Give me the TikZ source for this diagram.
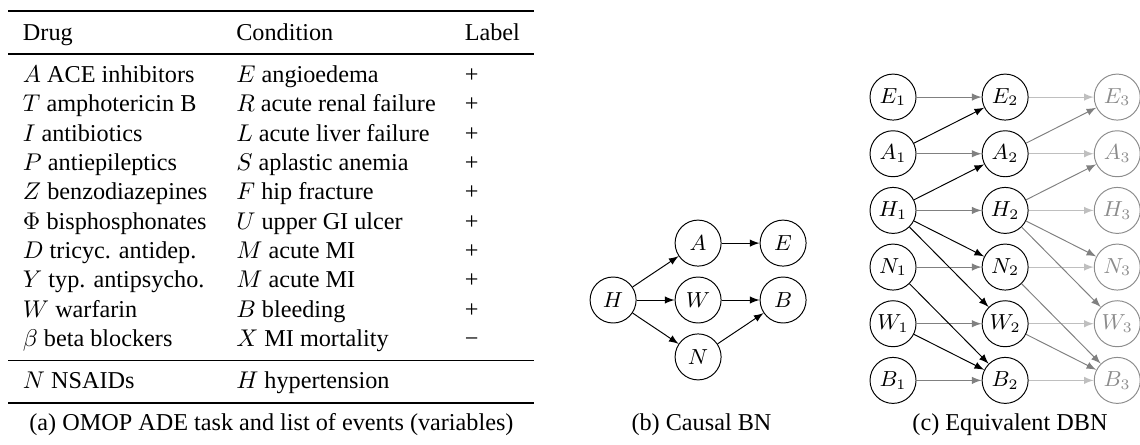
\documentclass[tikz,border=0pt]{standalone}
\usepackage{fontspec}
\setmainfont{Liberation Serif}
\usepackage{booktabs}
\usepackage{xcolor}
\usetikzlibrary{positioning}

\begin{document}
\begin{tikzpicture}[>=latex, on grid]

        % Define styles
        \tikzstyle{var} = [circle, draw, minimum size=19pt, inner sep=0pt, font=\small]
        \tikzstyle{future} = [var, draw=black!45, text=black!45]
        \tikzstyle{arrow} = [->]
        \tikzstyle{persist} = [->, black!50]
        \tikzstyle{later} = [->, black!50]
        \tikzstyle{laterpersist} = [->, black!25]
        \tikzstyle{caption} = [anchor=base, inner sep=0pt]

        \useasboundingbox (0,0) rectangle (470.8pt,-183.4pt);

        % (a) table of events
        \node (events) [anchor=north, inner sep=0pt] at (112.1pt,-4.1pt) {%
          \renewcommand{\arraystretch}{1.01}%
          \begin{tabular}{lll}
            \toprule
            Drug & Condition & Label \\
            \midrule
            $A$ ACE inhibitors & $E$ angioedema & + \\
            $T$ amphotericin B & $R$ acute renal failure & + \\
            $I$ antibiotics & $L$ acute liver failure & + \\
            $P$ antiepileptics & $S$ aplastic anemia & + \\
            $Z$ benzodiazepines & $F$ hip fracture & + \\
            $\Phi$ bisphosphonates & $U$ upper GI ulcer & + \\
            $D$ tricyc. antidep. & $M$ acute MI & + \\
            $Y$ typ. antipsycho. & $M$ acute MI & + \\
            $W$ warfarin & $B$ bleeding & + \\
            $\beta$ beta blockers & $X$ MI mortality & − \\
            \midrule
            $N$ NSAIDs & $H$ hypertension & \\
            \bottomrule
          \end{tabular}};
        \node (capa) [caption] at (112.1pt,-177.6pt) {(a) OMOP ADE task and list of events (variables)};

        % (b) causal BN
        \node (H) [var] at (253.2pt,-123.9pt) {$H$};
        \node (W) [var, right=35.1pt of H] {$W$};
        \node (A) [var, above=23.5pt of W] {$A$};
        \node (N) [var, below=23.5pt of W] {$N$};
        \node (E) [var, right=35.1pt of A] {$E$};
        \node (B) [var, right=35.1pt of W] {$B$};
        \node (capb) [caption] at (289.7pt,-177.6pt) {(b) Causal BN};

        \draw [arrow] (H) -- (A);
        \draw [arrow] (H) -- (W);
        \draw [arrow] (H) -- (N);
        \draw [arrow] (A) -- (E);
        \draw [arrow] (W) -- (B);
        \draw [arrow] (N) -- (B);

        % (c) equivalent DBN, slice 1
        \node (E1) [var] at (368.8pt,-40.1pt) {$E_1$};
        \node (A1) [var, below=23.4pt of E1] {$A_1$};
        \node (H1) [var, below=23.4pt of A1] {$H_1$};
        \node (N1) [var, below=23.4pt of H1] {$N_1$};
        \node (W1) [var, below=23.4pt of N1] {$W_1$};
        \node (B1) [var, below=23.4pt of W1] {$B_1$};

        % slice 2
        \node (E2) [var, right=46.3pt of E1] {$E_2$};
        \node (A2) [var, right=46.3pt of A1] {$A_2$};
        \node (H2) [var, right=46.3pt of H1] {$H_2$};
        \node (N2) [var, right=46.3pt of N1] {$N_2$};
        \node (W2) [var, right=46.3pt of W1] {$W_2$};
        \node (B2) [var, right=46.3pt of B1] {$B_2$};

        % slice 3
        \node (E3) [future, right=46.3pt of E2] {$E_3$};
        \node (A3) [future, right=46.3pt of A2] {$A_3$};
        \node (H3) [future, right=46.3pt of H2] {$H_3$};
        \node (N3) [future, right=46.3pt of N2] {$N_3$};
        \node (W3) [future, right=46.3pt of W2] {$W_3$};
        \node (B3) [future, right=46.3pt of B2] {$B_3$};

        \node (capc) [caption] at (417.1pt,-177.6pt) {(c) Equivalent DBN};

        % Arrows 1 -> 2
        \draw [persist] (E1) -- (E2);
        \draw [persist] (A1) -- (A2);
        \draw [persist] (H1) -- (H2);
        \draw [persist] (N1) -- (N2);
        \draw [persist] (W1) -- (W2);
        \draw [persist] (B1) -- (B2);
        \draw [arrow] (A1) -- (E2);
        \draw [arrow] (H1) -- (A2);
        \draw [arrow] (H1) -- (N2);
        \draw [arrow] (H1) -- (W2);
        \draw [arrow] (N1) -- (B2);
        \draw [arrow] (W1) -- (B2);

        % Arrows 2 -> 3
        \draw [laterpersist] (E2) -- (E3);
        \draw [laterpersist] (A2) -- (A3);
        \draw [laterpersist] (H2) -- (H3);
        \draw [laterpersist] (N2) -- (N3);
        \draw [laterpersist] (W2) -- (W3);
        \draw [laterpersist] (B2) -- (B3);
        \draw [later] (A2) -- (E3);
        \draw [later] (H2) -- (A3);
        \draw [later] (H2) -- (N3);
        \draw [later] (H2) -- (W3);
        \draw [later] (N2) -- (B3);
        \draw [later] (W2) -- (B3);

      \end{tikzpicture}
\end{document}
